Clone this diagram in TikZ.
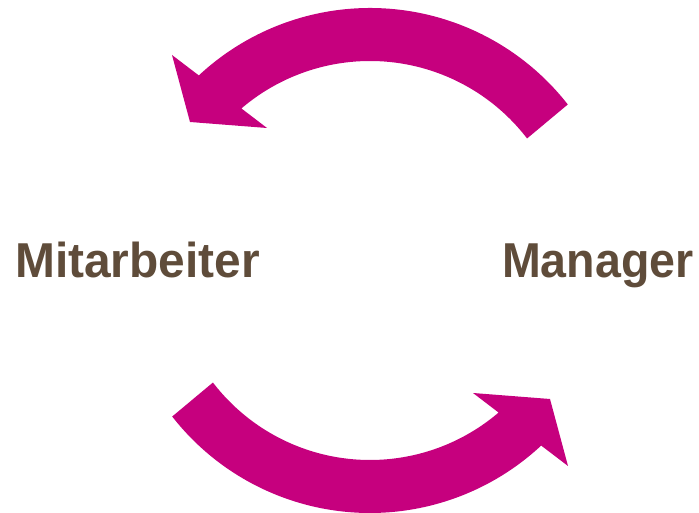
\documentclass[tikz,border=0pt]{standalone}
\usepackage{fontspec}
\setmainfont{Liberation Sans}
\definecolor{arrowmag}{HTML}{C6007E}
\definecolor{labelbrown}{HTML}{5F4C3A}
\usetikzlibrary{calc}
\tikzset{
  bigarrow/.style={fill=arrowmag, draw=none},
  lbl/.style={inner sep=0pt, text=labelbrown, font=\bfseries\fontsize{49}{49}\selectfont}
}
\newcommand{\cyclearrow}{%
  \fill[bigarrow] (370,254) ++(38:251) arc[start angle=38, end angle=133, radius=251]
    -- (172,458) -- (190,391) -- (267,385)
    -- ($(370,254)+(130.5:198)$) arc[start angle=130.5, end angle=37.5, radius=198] -- cycle;%
}
\begin{document}
\begin{tikzpicture}[x=1pt,y=1pt]
  \useasboundingbox (0,0) rectangle (699,513);
  % upper arrow (Manager -> Mitarbeiter)
  \cyclearrow
  % lower arrow (Mitarbeiter -> Manager), point-symmetric copy
  \begin{scope}[rotate around={180:(370,252.5)}]
    \cyclearrow
  \end{scope}
  \node[lbl, anchor=base west] (mit) at (15,235.7) {\scalebox{0.977}[1]{Mitarbeiter}};
  \node[lbl, anchor=base west] (man) at (502,235.7) {\scalebox{0.95}[1]{Manager}};
\end{tikzpicture}
\end{document}
